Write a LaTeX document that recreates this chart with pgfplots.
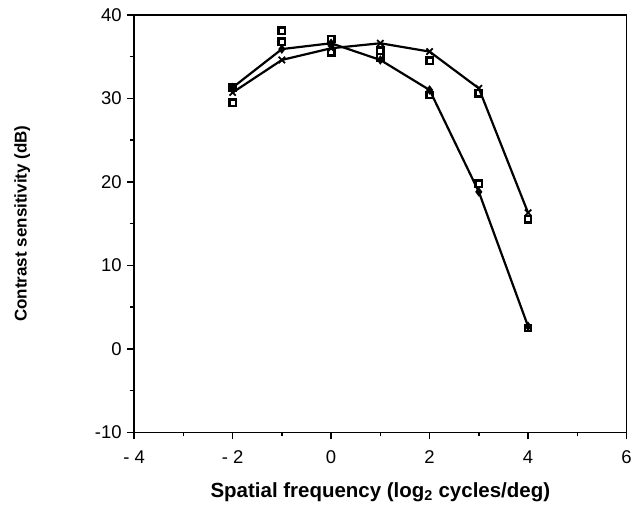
\documentclass[border=0pt]{standalone}
\usepackage{pgfplots}
\pgfplotsset{compat=1.18}
\usepackage{fontspec}
\setmainfont{Liberation Sans}
\begin{document}
\begin{tikzpicture}
\begin{axis}[
    scale only axis,
    width=493pt, height=418pt,
    xmin=-4, xmax=6, ymin=-10, ymax=40,
    xtick={-4,-2,...,6}, ytick={-10,0,...,40},
    xticklabels={- 4,- 2,0,2,4,6},
    minor tick num=1,
    tick align=outside,
    xtick pos=bottom, ytick pos=left,
    major tick length=7pt, minor tick length=4pt,
    tick style={line width=1.4pt, black},
    axis line style={line width=1.6pt},
    /pgf/number format/assume math mode=true,
    ticklabel style={font=\fontsize{18.5}{20}\selectfont},
    xticklabel style={yshift=-8pt},
    yticklabel style={xshift=-2pt},
    xlabel={\bfseries Spatial frequency (log\textsubscript{2} cycles/deg)},
    ylabel={\bfseries Contrast sensitivity (dB)},
    xlabel style={font=\fontsize{20.5}{23}\selectfont, yshift=-12pt},
    ylabel style={font=\fontsize{17}{19}\selectfont, yshift=58pt},
]
% curve with crosses
\addplot[black, line width=2.2pt, mark=x, mark size=4.5pt, mark options={line width=1.8pt}]
coordinates {(-2,30.7) (-1,34.6) (0,36.0) (1,36.6) (2,35.6) (3,31.2) (4,16.3)};
% lower curve
\addplot[black, line width=2.2pt, mark=diamond*, mark size=3pt]
coordinates {(-2,31.3) (-1,35.9) (0,36.6) (1,34.6) (2,31.0) (3,18.8) (4,2.7)};
% open squares
\addplot[only marks, black, mark=square, mark size=3.2pt, mark options={line width=2.4pt, fill=white}]
coordinates {(-2,29.5) (-1,36.8) (0,37.1) (1,35.7) (2,34.5) (3,30.6) (4,15.5)};
\addplot[only marks, black, mark=square, mark size=3.2pt, mark options={line width=2.4pt, fill=white}]
coordinates {(-2,31.3) (-1,38.1) (0,35.5) (1,34.9) (2,30.4) (3,19.8) (4,2.5)};
\end{axis}
\path ([xshift=-11pt]current bounding box.west);
\path ([yshift=5pt]current bounding box.north);
\path ([yshift=-6pt]current bounding box.south);
\end{tikzpicture}
\end{document}
